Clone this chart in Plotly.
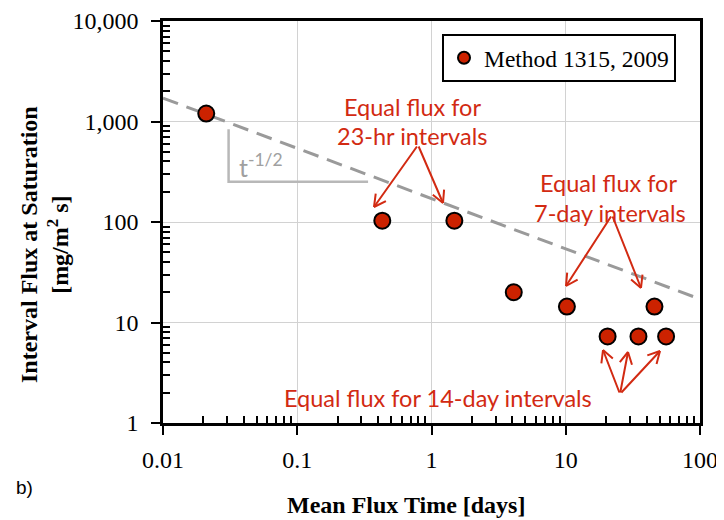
import math
import plotly.graph_objects as go

# ---- data ----
flux_time_days = [0.021, 0.43, 1.48, 4.1, 10.2, 20.5, 34.8, 45.8, 55.9]
interval_flux = [1200, 103, 103, 20.0, 14.4, 7.26, 7.26, 14.4, 7.26]
fit_time = [0.01, 100]
fit_flux = [1710, 17.1]
slope_x = [0.0308, 0.0308, 0.337]
slope_y = [835, 252, 252]
x_tickvals = [0.01, 0.1, 1, 10, 100]
x_ticktext = ["0.01", "0.1", "1", "10", "100"]
y_tickvals = [1, 10, 100, 1000, 10000]
y_ticktext = ["1", "10", "100", "1,000", "10,000"]
series_name = "Method 1315, 2009"

OFF = 8  # page body margin
W, H = 724 - OFF, 520 - OFF
L, R, T, B = 163, 700, 21, 423  # screen pixels
PW, PH = R - L, B - T


def px(xp):
    return (xp - L) / PW


def py(yp):
    return (B - yp) / PH


RED = "#D22A12"
MRED = "#CC2200"

fig = go.Figure()
fig.add_trace(go.Scatter(
    x=fit_time, y=fit_flux, mode="lines",
    line=dict(color="#9A9A9A", width=3, dash="16px,9px"),
    showlegend=False, hoverinfo="skip"))
fig.add_trace(go.Scatter(
    x=slope_x, y=slope_y, mode="lines",
    line=dict(color="#B8B8B8", width=2.5),
    showlegend=False, hoverinfo="skip"))
fig.add_trace(go.Scatter(
    x=flux_time_days, y=interval_flux, mode="markers", name=series_name,
    marker=dict(size=16, color=MRED, line=dict(color="black", width=2))))

minor_vals = [m * 10 ** e for e in range(-2, 4) for m in range(2, 10)]

axis_common = dict(
    type="log", showline=True, linecolor="black", linewidth=2.5, mirror=True,
    ticks="outside", ticklen=9, tickwidth=2, tickcolor="black",
    showgrid=True, gridcolor="#D2D2D2", gridwidth=1, automargin=False,
    tickfont=dict(family="Liberation Serif", size=24, color="black"),
)

fig.update_xaxes(
    **axis_common, range=[-2, 2], tickvals=x_tickvals, ticktext=x_ticktext,
    ticklabelstandoff=4,
    minor=dict(tickvals=[v for v in minor_vals if 0.01 < v < 100], ticks="inside",
               ticklen=7, tickwidth=2, tickcolor="black", showgrid=False))
fig.update_yaxes(
    **axis_common, range=[0, 4], tickvals=y_tickvals, ticktext=y_ticktext,
    ticklabelstandoff=8,
    minor=dict(tickvals=[v for v in minor_vals if 1 < v < 10000], ticks="inside",
               ticklen=7, tickwidth=2, tickcolor="black", showgrid=False))

annotations = []


def text(xp, yp, s, size=23.5, color=RED, family="Lato", **kw):
    annotations.append(dict(x=px(xp), y=py(yp), xref="paper", yref="paper",
                            xanchor="center", yanchor="middle",
                            text=s, showarrow=False,
                            font=dict(family=family, size=size, color=color), **kw))


def arrow(tail, tip):
    annotations.append(dict(x=px(tip[0]), y=py(tip[1]), xref="paper", yref="paper",
                            ax=tail[0] - tip[0], ay=tail[1] - tip[1], text="",
                            showarrow=True, arrowhead=0, arrowwidth=2, arrowcolor=RED))
    dx, dy = tail[0] - tip[0], tail[1] - tip[1]
    n = math.hypot(dx, dy)
    dx, dy = dx / n, dy / n
    for a in (28, -28):
        r = math.radians(a)
        ex = (dx * math.cos(r) - dy * math.sin(r)) * 15
        ey = (dx * math.sin(r) + dy * math.cos(r)) * 15
        annotations.append(dict(x=px(tip[0]), y=py(tip[1]), xref="paper", yref="paper",
                                ax=ex, ay=ey, text="", showarrow=True, arrowhead=0,
                                arrowwidth=2, arrowcolor=RED))


text(412, 107, "Equal flux for")
text(412, 136, "23-hr intervals")
text(608, 183, "Equal flux for")
text(610, 213, "7-day intervals")
text(438, 398, "Equal flux for 14-day intervals")
arrow((418, 145), (374, 207))
arrow((418, 145), (443, 203))
arrow((612, 215), (566, 286))
arrow((612, 215), (641, 288))
arrow((620, 394), (603, 350))
arrow((620, 394), (628, 352))
arrow((620, 394), (660, 351))

text(261, 165, "t<sup>-1/2</sup>", size=25, color="#A0A0A0")

text(44, 245, "<b>Interval Flux at Saturation</b><br><b>[mg/m<sup>2</sup> s]</b>",
     size=24, color="black", family="Liberation Serif", textangle=-90)
text(406, 505, "<b>Mean Flux Time [days]</b>", size=24, color="black",
     family="Liberation Serif")
text(24, 487, "b)", size=19, color="black", family="Liberation Sans")

fig.update_layout(
    width=W, height=H,
    margin=dict(l=L - OFF, r=724 - R, t=T - OFF, b=520 - B, autoexpand=False),
    paper_bgcolor="white", plot_bgcolor="white",
    annotations=annotations,
    legend=dict(x=px(442), y=py(34), xanchor="left", yanchor="top",
                bgcolor="white", bordercolor="black", borderwidth=2,
                font=dict(family="Liberation Serif", size=23.5, color="black"),
                itemsizing="constant", itemwidth=30),
)

fig.write_html("out.html")
